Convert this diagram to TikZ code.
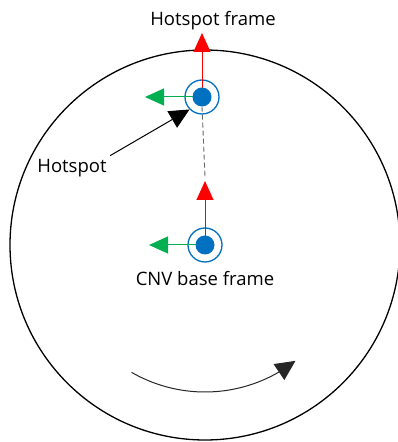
\documentclass[tikz,border=0pt]{standalone}
\usepackage{fontspec}
\setmainfont{Open Sans}
\usetikzlibrary{arrows.meta, positioning, bending}
\definecolor{frameblue}{HTML}{0070C0}
\definecolor{axisgreen}{HTML}{00B050}

\begin{document}
\begin{tikzpicture}[
    x=1pt, y=1pt,
    font=\fontsize{18.5}{22}\selectfont,
    ring/.style={circle, draw=frameblue, line width=1.3pt, minimum size=34pt, inner sep=0pt},
    dot/.style={circle, fill=frameblue, minimum size=19pt, inner sep=0pt},
    zaxis/.style={red, line width=1pt, -{Triangle[length=19pt, width=17pt]}},
    yaxis/.style={axisgreen, line width=1pt, -{Triangle[length=19pt, width=17pt]}},
    arrow/.style={line width=1pt, -{Triangle[length=20pt, width=19pt]}},
    turn/.style={black!85, line width=1pt, -{Triangle[length=20pt, width=19pt, flex]}}
]
\useasboundingbox (0,0) rectangle (398,442);

\node (wheel) [circle, draw, line width=1.3pt, minimum size=390pt, inner sep=0pt] at (205,197) {};

% frames
\node (hsring) [ring] at (202,345) {};
\node (basering) [ring] at (205,197) {};

\coordinate (hsz) at (202,409);
\coordinate (hsy) at (145,345);
\coordinate (basez) at (205,261);
\coordinate (basey) at (149,197);

\draw [zaxis] (hsring.center) -- (hsz);
\draw [yaxis] (hsring.center) -- (hsy);
\draw [zaxis] (basering.center) -- (basez);
\draw [yaxis] (basering.center) -- (basey);

\node (hsdot) [dot] at (hsring.center) {};
\node (basedot) [dot] at (basering.center) {};

\draw [black!60, line width=0.9pt, dash pattern=on 5pt off 3pt] (hsdot.south) -- ([yshift=4pt]basez);

% labels
\node (hsframe) [above=0pt of hsz, xshift=11pt] {Hotspot frame};
\node (baseframe) [below=5pt of basering] {CNV base frame};
\node (hotspot) at (72,274) {Hotspot};

\draw [arrow] (hotspot.north east) -- (hsring.225);

% rotation
\draw [turn] (205,197) ++(240:147) arc (240:308:147);

\end{tikzpicture}
\end{document}
